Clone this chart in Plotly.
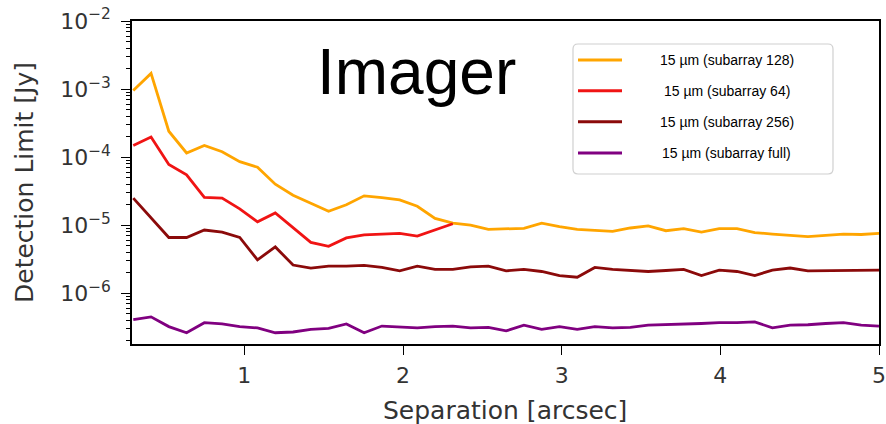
import plotly.graph_objects as go

separation = [0.300, 0.412, 0.524, 0.636, 0.748, 0.860, 0.971, 1.083, 1.195, 1.307,
              1.419, 1.531, 1.643, 1.755, 1.867, 1.979, 2.090, 2.202, 2.314, 2.426,
              2.538, 2.650, 2.762, 2.874, 2.986, 3.098, 3.209, 3.321, 3.433, 3.545,
              3.657, 3.769, 3.881, 3.993, 4.105, 4.217, 4.328, 4.440, 4.552, 4.664,
              4.776, 4.888, 5.000]

sub128 = [9.5e-4, 1.7e-3, 2.4e-4, 1.15e-4, 1.48e-4, 1.2e-4, 8.6e-5, 7.1e-5, 4.0e-5, 2.75e-5,
          2.1e-5, 1.6e-5, 2.0e-5, 2.7e-5, 2.55e-5, 2.35e-5, 1.9e-5, 1.26e-5, 1.07e-5, 1.0e-5,
          8.7e-6, 8.9e-6, 9.0e-6, 1.07e-5, 9.5e-6, 8.7e-6, 8.3e-6, 8.1e-6, 9.1e-6, 9.8e-6,
          8.3e-6, 8.9e-6, 7.9e-6, 8.9e-6, 8.9e-6, 7.8e-6, 7.4e-6, 7.1e-6, 6.8e-6, 7.1e-6,
          7.4e-6, 7.3e-6, 7.6e-6]

sub64 = [1.48e-4, 1.97e-4, 7.8e-5, 5.5e-5, 2.57e-5, 2.5e-5, 1.74e-5, 1.12e-5, 1.51e-5, 9.3e-6,
         5.6e-6, 4.9e-6, 6.5e-6, 7.2e-6, 7.4e-6, 7.6e-6, 6.9e-6, 8.5e-6, 1.05e-5]

sub256 = [2.5e-5, 1.29e-5, 6.6e-6, 6.6e-6, 8.5e-6, 7.9e-6, 6.6e-6, 3.1e-6, 4.8e-6, 2.6e-6,
          2.35e-6, 2.5e-6, 2.5e-6, 2.57e-6, 2.4e-6, 2.14e-6, 2.5e-6, 2.24e-6, 2.24e-6, 2.45e-6,
          2.5e-6, 2.14e-6, 2.24e-6, 2.09e-6, 1.82e-6, 1.72e-6, 2.4e-6, 2.24e-6, 2.19e-6, 2.09e-6,
          2.16e-6, 2.24e-6, 1.82e-6, 2.19e-6, 2.09e-6, 1.82e-6, 2.19e-6, 2.35e-6, 2.14e-6, 2.14e-6,
          2.19e-6, 2.19e-6, 2.19e-6]

subfull = [4.1e-7, 4.5e-7, 3.24e-7, 2.63e-7, 3.7e-7, 3.55e-7, 3.24e-7, 3.1e-7, 2.63e-7, 2.7e-7,
           2.95e-7, 3.05e-7, 3.55e-7, 2.63e-7, 3.3e-7, 3.16e-7, 3.1e-7, 3.24e-7, 3.3e-7, 3.1e-7,
           3.16e-7, 2.8e-7, 3.4e-7, 2.95e-7, 3.24e-7, 2.95e-7, 3.24e-7, 3.1e-7, 3.16e-7, 3.4e-7,
           3.45e-7, 3.55e-7, 3.6e-7, 3.7e-7, 3.7e-7, 3.8e-7, 3.1e-7, 3.4e-7, 3.45e-7, 3.6e-7,
           3.7e-7, 3.4e-7, 3.3e-7]

series_names = ["15 µm (subarray 128)", "15 µm (subarray 64)",
                "15 µm (subarray 256)", "15 µm (subarray full)"]
series_values = [sub128, sub64, sub256, subfull]
series_colors = ["#FFA500", "#F01414", "#8B0A0A", "#800080"]

y_tick_vals = [1e-6, 1e-5, 1e-4, 1e-3, 1e-2]
y_tick_text = ["10<sup>−6</sup>", "10<sup>−5</sup>", "10<sup>−4</sup>",
               "10<sup>−3</sup>", "10<sup>−2</sup>"]
x_tick_vals = [1, 2, 3, 4, 5]

W, H = 886, 424
L, R, T, B = 132, 7, 21, 80
pw, ph = W - L - R, H - T - B


def px2paper_x(px):
    return (px - L) / pw


def px2paper_y(py):
    return (H - B - py) / ph


fig = go.Figure()
for name, vals, col in zip(series_names, series_values, series_colors):
    fig.add_trace(go.Scatter(x=separation[:len(vals)], y=vals, mode="lines",
                             name=name, line=dict(color=col, width=2.8),
                             showlegend=False))

tick_font = dict(family="DejaVu Sans", size=22, color="#333333")
title_font = dict(family="DejaVu Sans", size=25, color="#333333")

fig.update_layout(
    width=W, height=H,
    margin=dict(l=L, r=R, t=T, b=B, pad=0, autoexpand=False),
    paper_bgcolor="white", plot_bgcolor="white",
    showlegend=False,
    xaxis=dict(range=[0.292, 5.0], tickvals=x_tick_vals, ticks="outside", ticklen=9,
               tickwidth=1.3, tickcolor="black", showline=True, linecolor="black",
               linewidth=1.5, mirror=True, showgrid=False, zeroline=False,
               tickfont=tick_font, automargin=False, ticklabelstandoff=2),
    yaxis=dict(type="log", range=[-6.745, -2.0], tickvals=y_tick_vals, ticktext=y_tick_text,
               ticks="outside", ticklen=9, tickwidth=1.3, tickcolor="black",
               showline=True, linecolor="black", linewidth=1.5, mirror=True,
               showgrid=False, zeroline=False, tickfont=tick_font, automargin=False,
               ticklabelstandoff=6,
               minor=dict(ticks="outside", ticklen=4.5, tickcolor="black", tickwidth=1,
                          dtick="D1", showgrid=False)),
)

# axis titles
fig.add_annotation(text="Detection Limit [Jy]", xref="paper", yref="paper",
                   x=px2paper_x(24), y=px2paper_y(183), textangle=-90,
                   showarrow=False, xanchor="center", yanchor="middle",
                   font=title_font)
fig.add_annotation(text="Separation [arcsec]", xref="paper", yref="paper",
                   x=px2paper_x(505), y=px2paper_y(410),
                   showarrow=False, xanchor="center", yanchor="middle",
                   font=title_font)

# big label
fig.add_annotation(text="Imager", xref="paper", yref="paper",
                   x=px2paper_x(416), y=px2paper_y(72),
                   showarrow=False, xanchor="center", yanchor="middle",
                   font=dict(family="Liberation Sans", size=64, color="black"))

# legend box
bx0, bx1, by0, by1 = 573, 833, 44, 174
r = 5
path = (f"M {px2paper_x(bx0 + r)},{px2paper_y(by0)} L {px2paper_x(bx1 - r)},{px2paper_y(by0)} "
        f"Q {px2paper_x(bx1)},{px2paper_y(by0)} {px2paper_x(bx1)},{px2paper_y(by0 + r)} "
        f"L {px2paper_x(bx1)},{px2paper_y(by1 - r)} "
        f"Q {px2paper_x(bx1)},{px2paper_y(by1)} {px2paper_x(bx1 - r)},{px2paper_y(by1)} "
        f"L {px2paper_x(bx0 + r)},{px2paper_y(by1)} "
        f"Q {px2paper_x(bx0)},{px2paper_y(by1)} {px2paper_x(bx0)},{px2paper_y(by1 - r)} "
        f"L {px2paper_x(bx0)},{px2paper_y(by0 + r)} "
        f"Q {px2paper_x(bx0)},{px2paper_y(by0)} {px2paper_x(bx0 + r)},{px2paper_y(by0)} Z")
fig.add_shape(type="path", path=path, xref="paper", yref="paper",
              line=dict(color="#D0D0D0", width=1.2), fillcolor="white", layer="above")

legend_rows = [60, 90.7, 121.7, 153]
for name, col, ry in zip(series_names, series_colors, legend_rows):
    fig.add_shape(type="line", xref="paper", yref="paper",
                  x0=px2paper_x(578), x1=px2paper_x(622),
                  y0=px2paper_y(ry), y1=px2paper_y(ry),
                  line=dict(color=col, width=3), layer="above")
    fig.add_annotation(text=name, xref="paper", yref="paper",
                       x=px2paper_x(726.5), y=px2paper_y(ry),
                       showarrow=False, xanchor="center", yanchor="middle",
                       font=dict(family="Liberation Sans", size=14, color="black"))

fig.write_html("out.html")
